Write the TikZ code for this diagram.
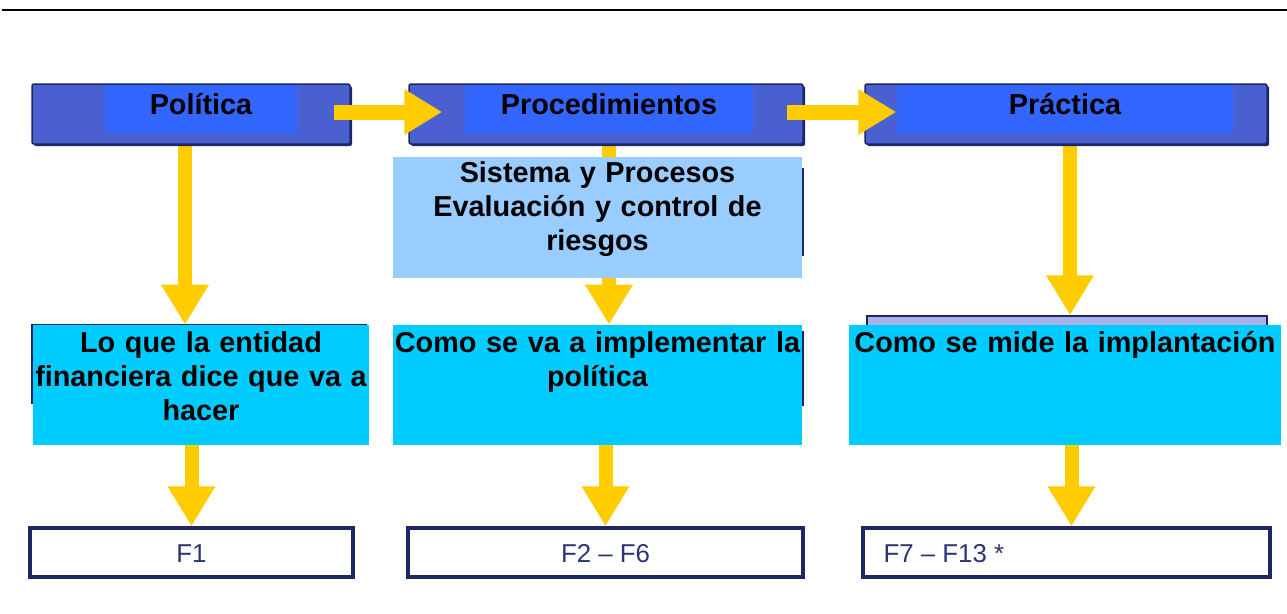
\documentclass[tikz,border=0pt]{standalone}
\usepackage{fontspec}
\setmainfont{Liberation Sans}
\usetikzlibrary{arrows.meta,calc,fit,shadows,backgrounds}
\definecolor{topbox}{HTML}{4A60D0}
\definecolor{toplabel}{HTML}{3366FF}
\definecolor{navy}{HTML}{1E2766}
\definecolor{arrowyellow}{HTML}{FFCC00}
\definecolor{cyanbox}{HTML}{00CCFF}
\definecolor{lightbox}{HTML}{99CCFF}
\definecolor{lavender}{HTML}{A9B1EA}
\definecolor{ftext}{HTML}{2E3470}
\begin{document}
\begin{tikzpicture}[x=0.02cm,y=-0.02cm,
  outerbox/.style={draw=navy, line width=0.03cm, fill=topbox, rounded corners=0.04cm, inner sep=0pt,
    drop shadow={fill=navy,opacity=1,shadow xshift=0.04cm,shadow yshift=-0.04cm}},
  labelbox/.style={fill=toplabel, inner sep=0pt},
  midbox/.style={fill=cyanbox, inner sep=0pt},
  procbox/.style={fill=lightbox, inner sep=0pt},
  underbox/.style={fill=lavender, draw=navy, line width=0.03cm, inner sep=0pt},
  fbox/.style={fill=white, draw=navy, line width=0.07cm, inner sep=0pt},
  titletext/.style={font=\fontsize{16.4}{19.6}\selectfont\bfseries, anchor=base, inner sep=0pt},
  bigtext/.style={font=\fontsize{16.4}{19.6}\selectfont\bfseries, text width=9cm, align=center, anchor=base, inner sep=0pt},
  ftextstyle/.style={font=\fontsize{14.7}{17}\selectfont, text=ftext, anchor=base, inner sep=0pt},
  yarr/.style={draw=arrowyellow, line width=0.3cm, -{Triangle[width=0.86cm,length=0.76cm,fill=arrowyellow]}},
  yarrv/.style={draw=arrowyellow, line width=0.28cm, -{Triangle[width=0.9cm,length=0.8cm,fill=arrowyellow]}}
]
\useasboundingbox (0,0) rectangle (1287,613);
% top rule
\coordinate (ruleL) at (2,10);
\coordinate (ruleR) at (1287,10);
\draw[line width=0.05cm] (ruleL) -- (ruleR);

% top boxes
\node[outerbox, fit={(32,84) (350,144)}] (polbox) {};
\node[outerbox, fit={(409,84) (803,144)}] (procbox) {};
\node[outerbox, fit={(865,84) (1267,144)}] (pracbox) {};
\node[labelbox, fit={(105,85) (297,133)}] (pol) {};
\node[labelbox, fit={(465,85) (753,133)}] (proc) {};
\node[labelbox, fit={(897,85) (1233,133)}] (prac) {};
\node[titletext] (poltxt) at (pol.center |- 0,114) {Política};
\node[titletext] (proctxt) at (proc.center |- 0,114) {Procedimientos};
\node[titletext] (practxt) at (prac.center |- 0,114) {Práctica};

% horizontal arrows
\draw[yarr] ($(polbox.east)+(-17,-2)$) -- ($(procbox.west)+(34,-2)$);
\draw[yarr] ($(procbox.east)+(-17,-2)$) -- ($(pracbox.west)+(32,-2)$);

% underlying boxes
\node[underbox, fit={(32,325) (366,403)}] (under1) {};
\node[underbox, fit={(400,169) (803,255)}] (under2) {};
\node[underbox, fit={(400,332) (803,405)}] (under3) {};
\node[underbox, fit={(867,316) (1267,405)}] (lav) {};

% middle boxes
\node[procbox, fit={(393,157) (802,278)}] (sys) {};
\node[bigtext] (systxt) at (sys.center |- 0,182) {Sistema y Procesos\\Evaluación y control de\\riesgos};
\node[midbox, fit={(33,325) (369,445)}] (lo) {};
\node[bigtext] (lotxt) at (lo.center |- 0,352) {Lo que la entidad\\financiera dice que va a\\hacer};
\node[midbox, fit={(393,325) (802,445)}] (cm2) {};
\node[bigtext] (cm2txt) at (cm2.center |- 0,352) {Como se va a implementar la\\política};
\node[midbox, fit={(849,325) (1281,445)}] (cm3) {};
\node[bigtext] (cm3txt) at (cm3.center |- 0,352) {Como se mide la implantación};

% bottom boxes
\node[fbox, fit={(30,528) (353,577)}] (f1) {};
\node[fbox, fit={(408,528) (803,577)}] (f2) {};
\node[fbox, fit={(863,528) (1270,577)}] (f3) {};
\node[ftextstyle] (f1txt) at (f1.center |- 0,562) {F1};
\node[ftextstyle] (f2txt) at (f2.center |- 0,562) {F2 – F6};
\node[ftextstyle, anchor=base west] (f3txt) at ($(f3.west |- 0,562)+(22,0)$) {F7 – F13 *};

% vertical arrows (behind)
\begin{pgfonlayer}{background}
\draw[yarrv] ($(polbox.south)+(-6,0)$) -- ($(lo.north)+(-16,0)$);
\draw[yarrv] (lo.south -| f1.north) -- (f1.north);
\draw[yarrv] (proc.south |- procbox.south) -- (proc.south |- cm2.north);
\draw[yarrv] (cm2.south -| f2.north) -- (f2.north);
\draw[yarrv] ($(pracbox.south)+(4,0)$) -- ($(pracbox.south |- lav.north)+(4,0)$);
\draw[yarrv] ($(cm3.south -| f3.north)+(5,0)$) -- ($(f3.north)+(5,0)$);
\end{pgfonlayer}
\end{tikzpicture}
\end{document}
